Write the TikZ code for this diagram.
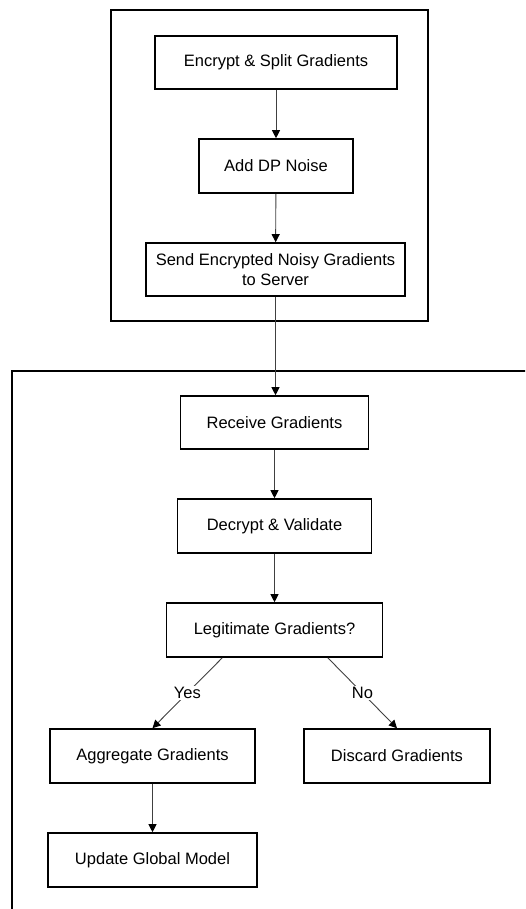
\documentclass[tikz,border=0pt]{standalone}
\usepackage{fontspec}
\setmainfont{Liberation Sans}
\usetikzlibrary{arrows.meta,calc}
\begin{document}
\begin{tikzpicture}[x=1pt,y=-1pt,
  box/.style={draw=black,line width=1.6pt,rectangle,align=center,inner sep=2pt,
    font=\fontsize{16.5}{19.5}\selectfont},
  flow/.style={draw=black!75,line width=0.9pt,-{Triangle[length=8pt,width=8pt,color=black]}},
  lbl/.style={fill=white,inner sep=1.5pt,font=\fontsize{16.5}{19.5}\selectfont},
  frame/.style={draw=black,line width=1.6pt}]
\useasboundingbox (0,0) rectangle (525,909);
\clip (0,0) rectangle (525,909);
% clusters
\draw[frame] (111,10) rectangle (428,321);
\draw[frame] (12,371) rectangle (560,960);
% nodes
\node[box,minimum width=242pt,minimum height=53pt] (n1) at (276,62.5) {Encrypt \& Split Gradients};
\node[box,minimum width=154pt,minimum height=54pt] (n2) at (276,166) {Add DP Noise};
\node[box,minimum width=259pt,minimum height=53pt] (n3) at (275.5,269.5) {Send Encrypted Noisy Gradients\\to Server};
\node[box,minimum width=188pt,minimum height=53pt] (n4) at (274.5,422.5) {Receive Gradients};
\node[box,minimum width=194pt,minimum height=54pt] (n5) at (274.5,526) {Decrypt \& Validate};
\node[box,minimum width=216pt,minimum height=54pt] (n6) at (274.5,630) {Legitimate Gradients?};
\node[box,minimum width=205pt,minimum height=54pt] (n7) at (152.5,756) {Aggregate Gradients};
\node[box,minimum width=186pt,minimum height=54pt] (n8) at (397,756) {Discard Gradients};
\node[box,minimum width=209pt,minimum height=54pt] (n9) at (152.5,860) {Update Global Model};
% connectors
\draw[flow] (n1) -- (n2);
\draw[flow] (n2) -- (n3);
\draw[flow] (n3.south) -- (n3.south |- n4.north);
\draw[flow] (n4) -- (n5);
\draw[flow] (n5) -- (n6);
\coordinate (yesstart) at ($(n6.south west)!0.26!(n6.south east)$);
\coordinate (nostart) at ($(n6.south west)!0.745!(n6.south east)$);
\draw[flow] (yesstart) -- node[lbl] {Yes} (n7.north);
\draw[flow] (nostart) -- node[lbl] {No} (n8.north);
\draw[flow] (n7) -- (n9);
\end{tikzpicture}
\end{document}
